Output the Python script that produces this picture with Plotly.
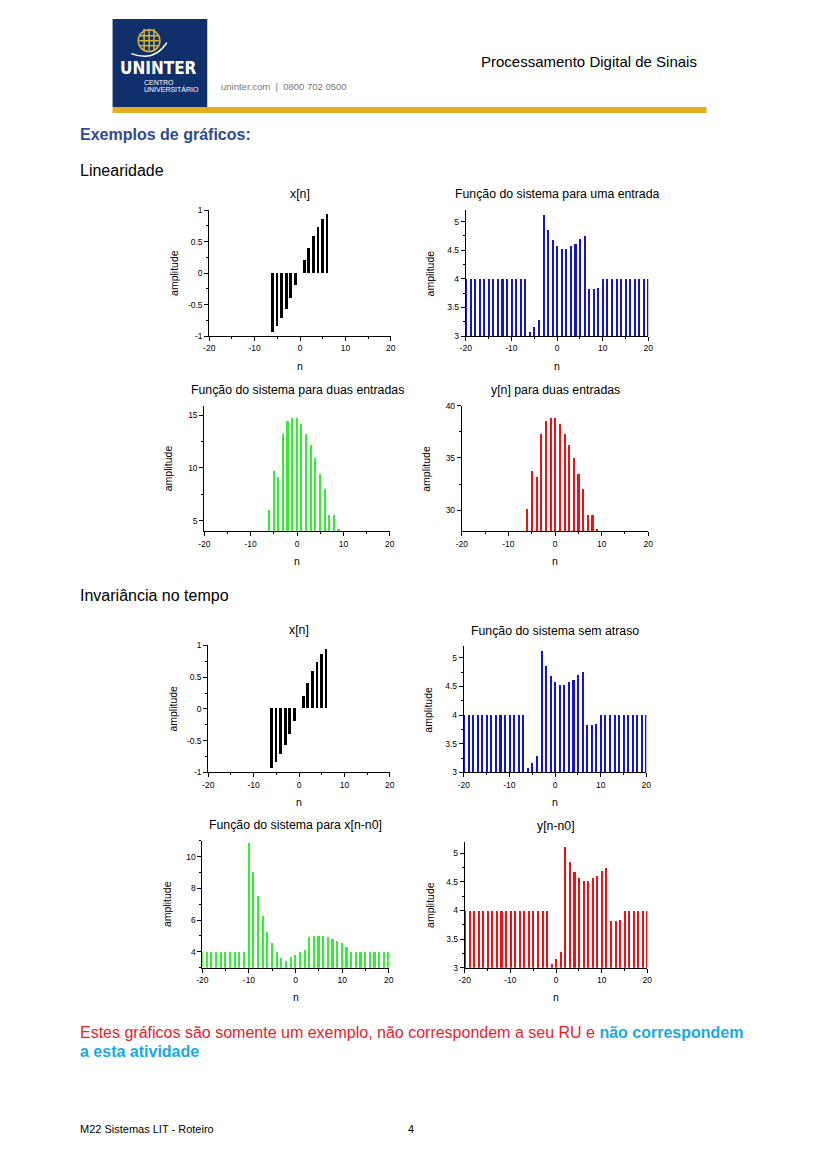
import plotly.graph_objects as go

W, H = 820, 1160

# ---- data read from the page ----
n_x = [-6, -5, -4, -3, -2, -1, 0, 1, 2, 3, 4, 5, 6]
x_vals = [-0.94, -0.85, -0.72, -0.58, -0.40, -0.195, 0.0, 0.20, 0.40, 0.59, 0.73, 0.86, 0.94]

n_full = list(range(-20, 21))
y_one = [4.0, 4.0, 4.0, 4.0, 4.0, 4.0, 4.0, 4.0, 4.0, 4.0, 4.0, 4.0, 4.0, 4.0,
         3.07, 3.15, 3.28, 5.12, 4.85, 4.68, 4.57, 4.51, 4.51, 4.57, 4.61, 4.69, 4.74,
         3.82, 3.82, 3.83,
         4.0, 4.0, 4.0, 4.0, 4.0, 4.0, 4.0, 4.0, 4.0, 4.0, 4.0]

n_two = [-6, -5, -4, -3, -2, -1, 0, 1, 2, 3, 4, 5, 6, 7, 8, 9]
y_two_sys = [6.1, 9.8, 9.2, 13.3, 14.5, 14.8, 14.75, 14.2, 13.3, 12.25, 11.0, 9.5, 8.06, 5.6, 5.6, 4.28]
y_two_out = [30.15, 33.8, 33.2, 37.35, 38.6, 38.9, 38.85, 38.3, 37.35, 36.3, 35.0, 33.55, 32.05, 29.6, 29.6, 28.3]

y_delay_in = [4.0, 4.0, 4.0, 4.0, 4.0, 4.0, 4.0, 4.0, 4.0, 4.0,
              10.88, 9.05, 7.52, 6.25, 5.27, 4.54, 3.98, 3.65, 3.42, 3.71, 3.83,
              3.98, 4.15, 4.96, 5.0, 5.0, 5.0, 4.94, 4.83, 4.71, 4.54, 4.33,
              4.0, 4.0, 4.0, 4.0, 4.0, 4.0, 4.0, 4.0, 4.0]

y_shifted = [4.0, 4.0, 4.0, 4.0, 4.0, 4.0, 4.0, 4.0, 4.0, 4.0, 4.0, 4.0, 4.0, 4.0,
             4.0, 4.0, 4.0, 4.0, 4.0,
             3.07, 3.15, 3.28, 5.12, 4.85, 4.68, 4.57, 4.51, 4.51, 4.57, 4.61, 4.69, 4.74,
             3.82, 3.82, 3.83,
             4.0, 4.0, 4.0, 4.0, 4.0, 4.0]

x_ticks = [-20, -10, 0, 10, 20]


def px(x):
    return x / W


def py(y):
    return 1 - y / H


def lab(v):
    # plain hyphen minus like the original plots
    return ("%g" % v).replace("\u2212", "-")


fig = go.Figure()
annotations = []
shapes = []

# (x, y, colour, title, yrange, yticks, bar width, x-domain px, y-domain px)
panels = [
    (n_x, x_vals, "black", "x[n]", [-1, 1], [-1, -0.5, 0, 0.5, 1], 0.6, (206, 390), (207, 334)),
    (n_full, y_one, "#1414CC", "Função do sistema para uma entrada", [3, 5.2], [3, 3.5, 4, 4.5, 5], 0.45, (466, 651), (207, 334)),
    (n_two, y_two_sys, "#33EE33", "Função do sistema para duas entradas", [4, 15.9], [5, 10, 15], 0.45, (201, 389), (404, 531)),
    (n_two, y_two_out, "#EE1111", "y[n] para duas entradas", [28, 40], [30, 35, 40], 0.45, (462, 651), (404, 531)),
    (n_x, x_vals, "black", "x[n]", [-1, 1], [-1, -0.5, 0, 0.5, 1], 0.6, (205, 389), (646, 774)),
    (n_full, y_one, "#1414CC", "Função do sistema sem atraso", [3, 5.2], [3, 3.5, 4, 4.5, 5], 0.45, (464, 649), (647, 774)),
    (n_full, y_delay_in, "#33EE33", "Função do sistema para x[n-n0]", [3, 11], [4, 6, 8, 10], 0.45, (199, 388), (843, 971)),
    (n_full, y_shifted, "#EE1111", "y[n-n0]", [3, 5.2], [3, 3.5, 4, 4.5, 5], 0.45, (465, 650), (844, 971)),
]

for i, (xs, ys, col, title, yr, yt, bw, xd, yd) in enumerate(panels, start=1):
    sfx = "" if i == 1 else str(i)
    fig.add_trace(go.Bar(x=xs, y=ys, width=bw, marker=dict(color=col, line_width=0),
                         xaxis="x" + sfx, yaxis="y" + sfx, showlegend=False, hoverinfo="x+y"))
    ydelta = yt[1] - yt[0]
    fig.layout["xaxis" + sfx] = dict(
        domain=[px(xd[0]), px(xd[1])], range=[-20, 20], anchor="y" + sfx,
        tickvals=x_ticks, ticktext=[lab(v) for v in x_ticks],
        ticks="outside", ticklen=4, tickwidth=1, tickcolor="black",
        showline=True, linecolor="black", linewidth=1, showgrid=False, zeroline=False,
        tickfont=dict(size=8.5, color="black", family="Arial"),
        minor=dict(dtick=5, tick0=0, ticks="outside", ticklen=2, tickcolor="black", showgrid=False),
        fixedrange=True)
    fig.layout["yaxis" + sfx] = dict(
        domain=[py(yd[1]), py(yd[0])], range=yr, anchor="x" + sfx,
        tickvals=yt, ticktext=[lab(v) for v in yt],
        ticks="outside", ticklen=4, tickwidth=1, tickcolor="black",
        showline=True, linecolor="black", linewidth=1, showgrid=False, zeroline=False,
        tickfont=dict(size=8.5, color="black", family="Arial"),
        minor=dict(dtick=ydelta / 2, tick0=yt[0], ticks="outside", ticklen=2, tickcolor="black", showgrid=False),
        fixedrange=True)
    cx = (xd[0] + xd[1]) / 2
    annotations.append(dict(x=px(cx), y=py(yd[0] - 16), text=title,
                            font=dict(size=12.3, color="black", family="Arial")))
    annotations.append(dict(x=px(xd[0] - 36), y=py((yd[0] + yd[1]) / 2), text="amplitude", textangle=-90,
                            font=dict(size=10.5, color="black", family="Arial")))
    annotations.append(dict(x=px(cx), y=py(yd[1] + 30), text="n",
                            font=dict(size=10.5, color="black", family="Arial")))

# ---- page header ----
shapes.append(dict(type="rect", xref="paper", yref="paper", x0=px(108), x1=px(204), y0=py(103), y1=py(14),
                   fillcolor="#10306B", line_width=0))
shapes.append(dict(type="rect", xref="paper", yref="paper", x0=px(108), x1=px(710), y0=py(109), y1=py(103),
                   fillcolor="#E3AE22", line_width=0))
# globe mark
gold = "#D9B43A"
shapes.append(dict(type="circle", xref="paper", yref="paper", x0=px(134), x1=px(156), y0=py(47), y1=py(25),
                   line=dict(color=gold, width=1.5)))
for gx in (140, 145, 150):
    shapes.append(dict(type="line", xref="paper", yref="paper", x0=px(gx), x1=px(gx), y0=py(46), y1=py(24),
                       line=dict(color=gold, width=1.5)))
for gy in (31, 36, 41):
    shapes.append(dict(type="line", xref="paper", yref="paper", x0=px(135), x1=px(155), y0=py(gy), y1=py(gy),
                       line=dict(color=gold, width=1.5)))
shapes.append(dict(type="path", xref="paper", yref="paper",
                   path="M %f %f Q %f %f %f %f" % (px(127), py(49), px(150), py(58), px(163), py(38)),
                   line=dict(color="white", width=1.5)))

annotations += [
    dict(x=px(155), y=py(64), text="<b>UNINTER</b>", font=dict(size=17, color="white", family="DejaVu Sans Condensed")),
    dict(x=px(138), y=py(78), text="CENTRO", xanchor="left", font=dict(size=7, color="white", family="Arial")),
    dict(x=px(138), y=py(85), text="UNIVERSITÁRIO", xanchor="left", font=dict(size=7, color="white", family="Arial")),
    dict(x=px(216), y=py(82), text="uninter.com  |  0800 702 0500", xanchor="left",
         font=dict(size=9.5, color="#777777", family="Arial")),
    dict(x=px(702), y=py(57), text="Processamento Digital de Sinais", xanchor="right",
         font=dict(size=15, color="black", family="Arial")),
    dict(x=px(73), y=py(131), text="<b>Exemplos de gráficos:</b>", xanchor="left",
         font=dict(size=16, color="#2E4C8F", family="Arial")),
    dict(x=px(73), y=py(167), text="Linearidade", xanchor="left",
         font=dict(size=16, color="black", family="Arial")),
    dict(x=px(73), y=py(596), text="Invariância no tempo", xanchor="left",
         font=dict(size=16, color="black", family="Arial")),
    dict(x=px(73), y=py(1036),
         text="<span style='color:#E8222A'>Estes gráficos são somente um exemplo, não correspondem a seu RU e </span>"
              "<span style='color:#1BA9E1'><b>não correspondem</b></span>",
         xanchor="left", font=dict(size=16, family="Arial")),
    dict(x=px(73), y=py(1056), text="<b>a esta atividade</b>", xanchor="left",
         font=dict(size=16, color="#1BA9E1", family="Arial")),
    dict(x=px(73), y=py(1134), text="M22 Sistemas LIT - Roteiro", xanchor="left",
         font=dict(size=11, color="black", family="Arial")),
    dict(x=px(410), y=py(1134), text="4", font=dict(size=11, color="black", family="Arial")),
]
for a in annotations:
    a.setdefault("xref", "paper")
    a.setdefault("yref", "paper")
    a.setdefault("xanchor", "center")
    a.setdefault("yanchor", "middle")
    a.setdefault("showarrow", False)

fig.update_layout(width=W, height=H, margin=dict(l=0, r=0, t=0, b=0),
                  paper_bgcolor="white", plot_bgcolor="white", bargap=0,
                  annotations=annotations, shapes=shapes)

# pin the figure to the window corner so the page never overflows
pin = ("document.documentElement.style.overflow='hidden';"
       "document.body.style.margin='0';document.body.style.overflow='hidden';"
       "var d=document.getElementById('{plot_id}');"
       "d.style.position='fixed';d.style.left='0px';d.style.top='0px';")
fig.write_html("out.html", config={"displayModeBar": False}, post_script=pin)
